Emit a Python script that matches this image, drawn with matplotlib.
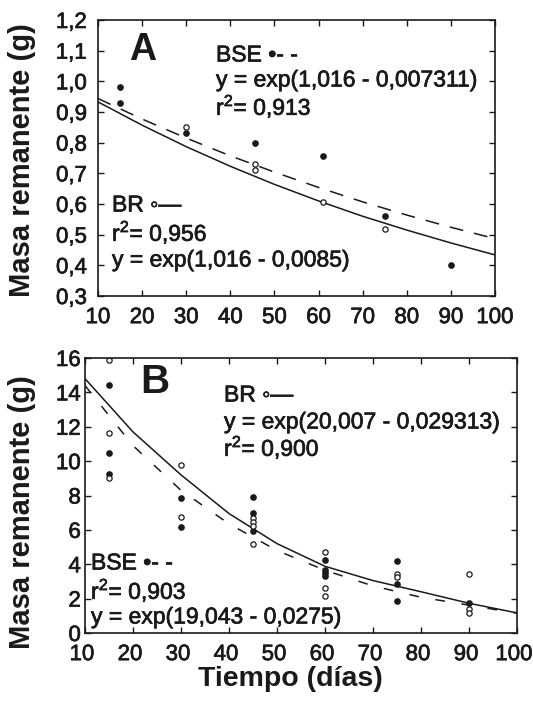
import numpy as np
import matplotlib
matplotlib.use("Agg")
import matplotlib.pyplot as plt
import matplotlib.patheffects as pe
from matplotlib.transforms import ScaledTranslation

plt.rcParams['font.family'] = ['Liberation Sans', 'DejaVu Sans']
plt.rcParams['mathtext.fontset'] = 'custom'
plt.rcParams['mathtext.rm'] = 'Liberation Sans'
plt.rcParams['lines.scale_dashes'] = False

INK = '#1a1a1a'
HEAVY = [pe.withStroke(linewidth=0.5, foreground=INK)]

# Panel A: litter mass (g)
a_bse_t = [15, 15, 30, 45.5, 61, 75, 90]
a_bse_y = [0.98, 0.93, 0.83, 0.80, 0.755, 0.56, 0.40]
a_br_t = [30, 45.5, 45.5, 61, 75]
a_br_y = [0.85, 0.73, 0.71, 0.605, 0.52]

# fitted curves, read every 10 days
fit_t = [10, 20, 30, 40, 50, 60, 70, 80, 90, 100]
a_br_fit = [0.933, 0.857, 0.787, 0.723, 0.664, 0.610, 0.560, 0.515, 0.473, 0.434]
a_bse_fit = [0.944, 0.877, 0.815, 0.757, 0.704, 0.654, 0.607, 0.564, 0.524, 0.487]

# Panel B
b_bse_t = [15, 15, 15, 30, 30, 45, 45, 45, 60, 60, 60, 60, 75, 75, 75, 90]
b_bse_y = [14.43, 10.49, 9.25, 7.83, 6.18, 7.93, 6.96, 5.93,
           4.23, 3.68, 3.49, 3.32, 4.21, 2.85, 1.86, 1.73]
b_br_t = [15, 15, 15, 30, 30, 45, 45, 45, 45, 60, 60, 60, 75, 75, 90, 90, 90]
b_br_y = [15.9, 11.65, 9.0, 9.77, 6.77, 6.71, 6.48, 6.22, 5.16,
          4.71, 2.60, 2.17, 3.43, 3.25, 3.41, 1.38, 1.15]
b_br_fit = [14.8, 11.7, 9.2, 6.95, 5.2, 3.88, 3.05, 2.4, 1.73, 1.17]
b_bse_fit = [14.4, 10.9, 8.3, 6.35, 4.8, 3.65, 2.74, 2.08, 1.62, 1.15]

x_ticks = list(range(10, 101, 10))
a_yticks = [0.3, 0.4, 0.5, 0.6, 0.7, 0.8, 0.9, 1.0, 1.1, 1.2]
b_yticks = list(range(0, 17, 2))

W, H = 533, 704
fig = plt.figure(figsize=(W / 100, H / 100), dpi=100)


def px_axes(l, t, r, b):
    return fig.add_axes([l / W, 1 - b / H, (r - l) / W, (b - t) / H])


def label(x, y, s, size=16.5, heavy=True, **kw):
    t = fig.text(x / W, 1 - y / H, s, fontsize=size, color=INK, va='center', **kw)
    if heavy:
        t.set_path_effects(HEAVY)


def style(ax, yticks, ylabels, ypad, xshift):
    ax.set_xlim(10, 100)
    ax.set_xticks(x_ticks)
    ax.set_xticklabels([str(v) for v in x_ticks])
    ax.set_yticks(yticks)
    ax.set_yticklabels(ylabels)
    ax.tick_params(direction='in', length=4, width=1, top=True, right=True,
                   labelsize=16, colors=INK)
    ax.tick_params(axis='x', pad=8)
    ax.tick_params(axis='y', pad=ypad)
    for s in ax.spines.values():
        s.set_linewidth(1.2)
        s.set_color(INK)
    shift = ScaledTranslation(xshift / 100, 0, fig.dpi_scale_trans)
    for t in ax.get_xticklabels():
        t.set_transform(t.get_transform() + shift)
        t.set_path_effects(HEAVY)
    for t in ax.get_yticklabels():
        t.set_path_effects(HEAVY)


axA = px_axes(98, 20, 495, 296)
axA.plot(fit_t, a_br_fit, color=INK, lw=1.1)
axA.plot(fit_t, a_bse_fit, color=INK, lw=1.1, dashes=(10, 8))
axA.plot(a_bse_t, a_bse_y, 'o', ms=3.8, color=INK)
axA.plot(a_br_t, a_br_y, 'o', ms=3.8, mfc='white', mec=INK, mew=0.9)
axA.set_ylim(0.3, 1.2)
style(axA, a_yticks, [f"{v:.1f}".replace('.', ',') for v in a_yticks], 8, 0)

axB = px_axes(85, 358, 517, 633)
axB.plot(fit_t, b_br_fit, color=INK, lw=1.1)
axB.plot(fit_t, b_bse_fit, color=INK, lw=1.1, dashes=(7, 12))
axB.plot(b_bse_t, b_bse_y, 'o', ms=3.8, color=INK)
axB.plot(b_br_t, b_br_y, 'o', ms=3.8, mfc='white', mec=INK, mew=0.9)
axB.set_ylim(0, 16)
style(axB, b_yticks, [str(v) for v in b_yticks], 3, -3)

# panel letters and fit annotations
label(143, 50, 'A', size=27, heavy=False, fontweight='bold', ha='center')
label(155, 382, 'B', size=29, heavy=False, fontweight='bold', ha='center')

label(216, 55, 'BSE \u2022- -')
label(216, 80, 'y = exp(1,016 - 0,007311)')
label(216, 106, 'r$^2$= 0,913')
label(112, 205, 'BR \u25e6\u2014')
label(112, 232, 'r$^2$= 0,956')
label(112, 260, 'y = exp(1,016 - 0,0085)')

label(224, 395, 'BR \u25e6\u2014')
label(224, 422, 'y = exp(20,007 - 0,029313)')
label(224, 447, 'r$^2$= 0,900')
label(91, 563, 'BSE \u2022- -')
label(91, 590, 'r$^2$= 0,903')
label(91, 617, 'y = exp(19,043 - 0,0275)')

label(22, 160, 'Masa remanente (g)', size=21, heavy=False, rotation=90,
      fontweight='bold', ha='center')
label(22, 512, 'Masa remanente (g)', size=21, heavy=False, rotation=90,
      fontweight='bold', ha='center')
label(290, 679, 'Tiempo (días)', size=20.5, heavy=False, fontweight='bold',
      ha='center')

fig.savefig('out.png', dpi=100)
